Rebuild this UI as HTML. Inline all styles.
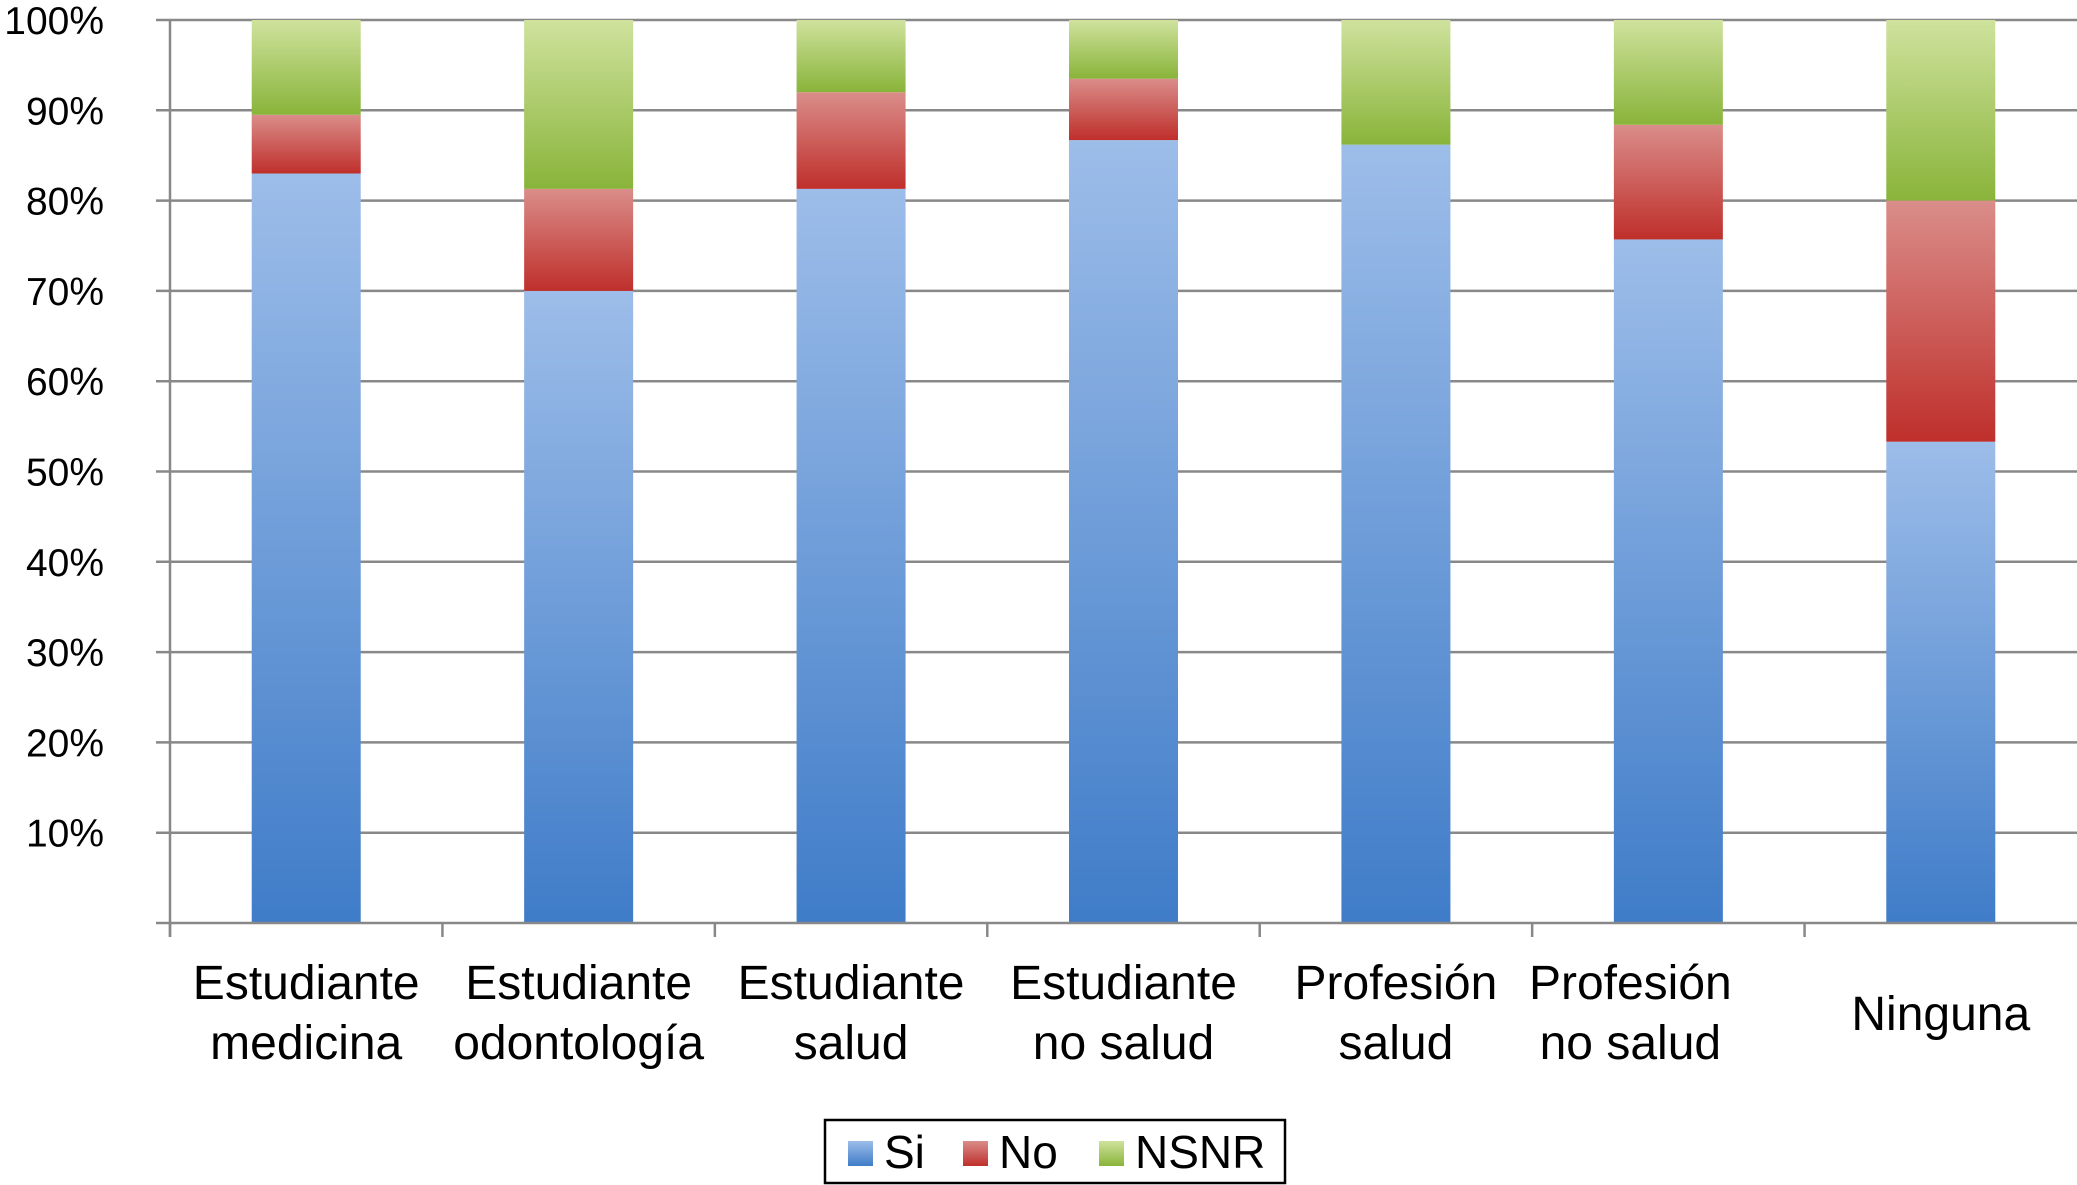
<!DOCTYPE html>
<html><head><meta charset="utf-8"><style>
html,body{margin:0;padding:0;background:#fff;}
svg{display:block;font-family:"Liberation Sans",Arial,sans-serif;}
</style></head><body>
<svg id="chart" width="2077" height="1185" viewBox="0 0 2077 1185" xmlns="http://www.w3.org/2000/svg">
<defs>
<linearGradient id="gSi" x1="0" y1="1" x2="0" y2="0"><stop offset="0" stop-color="#3f7cc8"/><stop offset="1" stop-color="#9dbde9"/></linearGradient>
<linearGradient id="gNo" x1="0" y1="1" x2="0" y2="0"><stop offset="0" stop-color="#bf2f2b"/><stop offset="1" stop-color="#da8d8a"/></linearGradient>
<linearGradient id="gNs" x1="0" y1="1" x2="0" y2="0"><stop offset="0" stop-color="#89b43a"/><stop offset="1" stop-color="#cfe29d"/></linearGradient>
</defs>
<g id="grid"></g><g id="bars"></g><g id="axes"></g><g id="labels"></g>
<g>
<rect x="825" y="1120" width="460" height="63" fill="#fff" stroke="#000" stroke-width="2.5"/>
<rect x="848" y="1141" width="25" height="25" fill="url(#gSi)"/>
<text x="884" y="1168" font-size="46">Si</text>
<rect x="963" y="1141" width="25" height="25" fill="url(#gNo)"/>
<text x="999" y="1168" font-size="46">No</text>
<rect x="1099" y="1141" width="25" height="25" fill="url(#gNs)"/>
<text x="1135" y="1168" font-size="46">NSNR</text>
</g>
</svg>
<script>
const categories=[["Estudiante","medicina"],["Estudiante","odontología"],["Estudiante","salud"],["Estudiante","no salud"],["Profesión","salud"],["Profesión","no salud"],["Ninguna"]];
const siValues=[83,70,81.3,86.7,86.2,75.7,53.3];
const noValues=[6.5,11.3,10.7,6.8,0,12.7,26.7];
const nsnrValues=[10.5,18.7,8,6.5,13.8,11.6,20];
const yTicks=[10,20,30,40,50,60,70,80,90,100];
const tickLabels=["10%","20%","30%","40%","50%","60%","70%","80%","90%","100%"];

const NS="http://www.w3.org/2000/svg";
const L=170,R=2077,T=20,B=923;
const y=v=>B-(B-T)*v/100;
const band=(R-L)/categories.length;
const xc=i=>L+band*(i+0.5);
const bw=109;
function mk(tag,attrs,parent){const e=document.createElementNS(NS,tag);for(const k in attrs)e.setAttribute(k,attrs[k]);document.getElementById(parent).appendChild(e);return e;}
yTicks.forEach((t,i)=>{
  const g=mk('line',{x1:L-14,x2:R,y1:y(t),y2:y(t),stroke:'#888',"stroke-width":2.5},'grid');
  
  
  const tx=mk('text',{x:104,y:y(t)+14,"text-anchor":"end","font-size":39,fill:'#000'},'labels');
  tx.textContent=tickLabels[i];
  
  
});
categories.forEach((c,i)=>{
  const segs=[[0,siValues[i],'url(#gSi)','si'],[siValues[i],siValues[i]+noValues[i],'url(#gNo)','no'],[siValues[i]+noValues[i],siValues[i]+noValues[i]+nsnrValues[i],'url(#gNs)','nsnr']];
  segs.forEach(s=>{
    if(s[1]-s[0]<=0)return;
    const r=mk('rect',{x:xc(i)-bw/2,y:y(s[1]),width:bw,height:y(s[0])-y(s[1]),fill:s[2]},'bars');
    
    
  });
  const tk=mk('line',{x1:L+band*i,x2:L+band*i,y1:B,y2:B+14,stroke:'#888',"stroke-width":2.5},'axes');
  
  
  const lines=c.length===1?[1030]:[999,1059];
  c.forEach((ln,j)=>{
    const t=mk('text',{x:xc(i)+(i===5?-38:0),y:lines[j],"text-anchor":"middle","font-size":48,fill:'#000'},'labels');
    t.textContent=ln;
    
    
  });
});
const ax=mk('line',{x1:L,x2:R,y1:B,y2:B,stroke:'#888',"stroke-width":2.5},'axes');


const ay=mk('line',{x1:L,x2:L,y1:T,y2:B+14,stroke:'#888',"stroke-width":2.5},'axes');


const t0=mk('line',{x1:L-14,x2:L,y1:B,y2:B,stroke:'#888',"stroke-width":2.5},'axes');


</script>
</body></html>
